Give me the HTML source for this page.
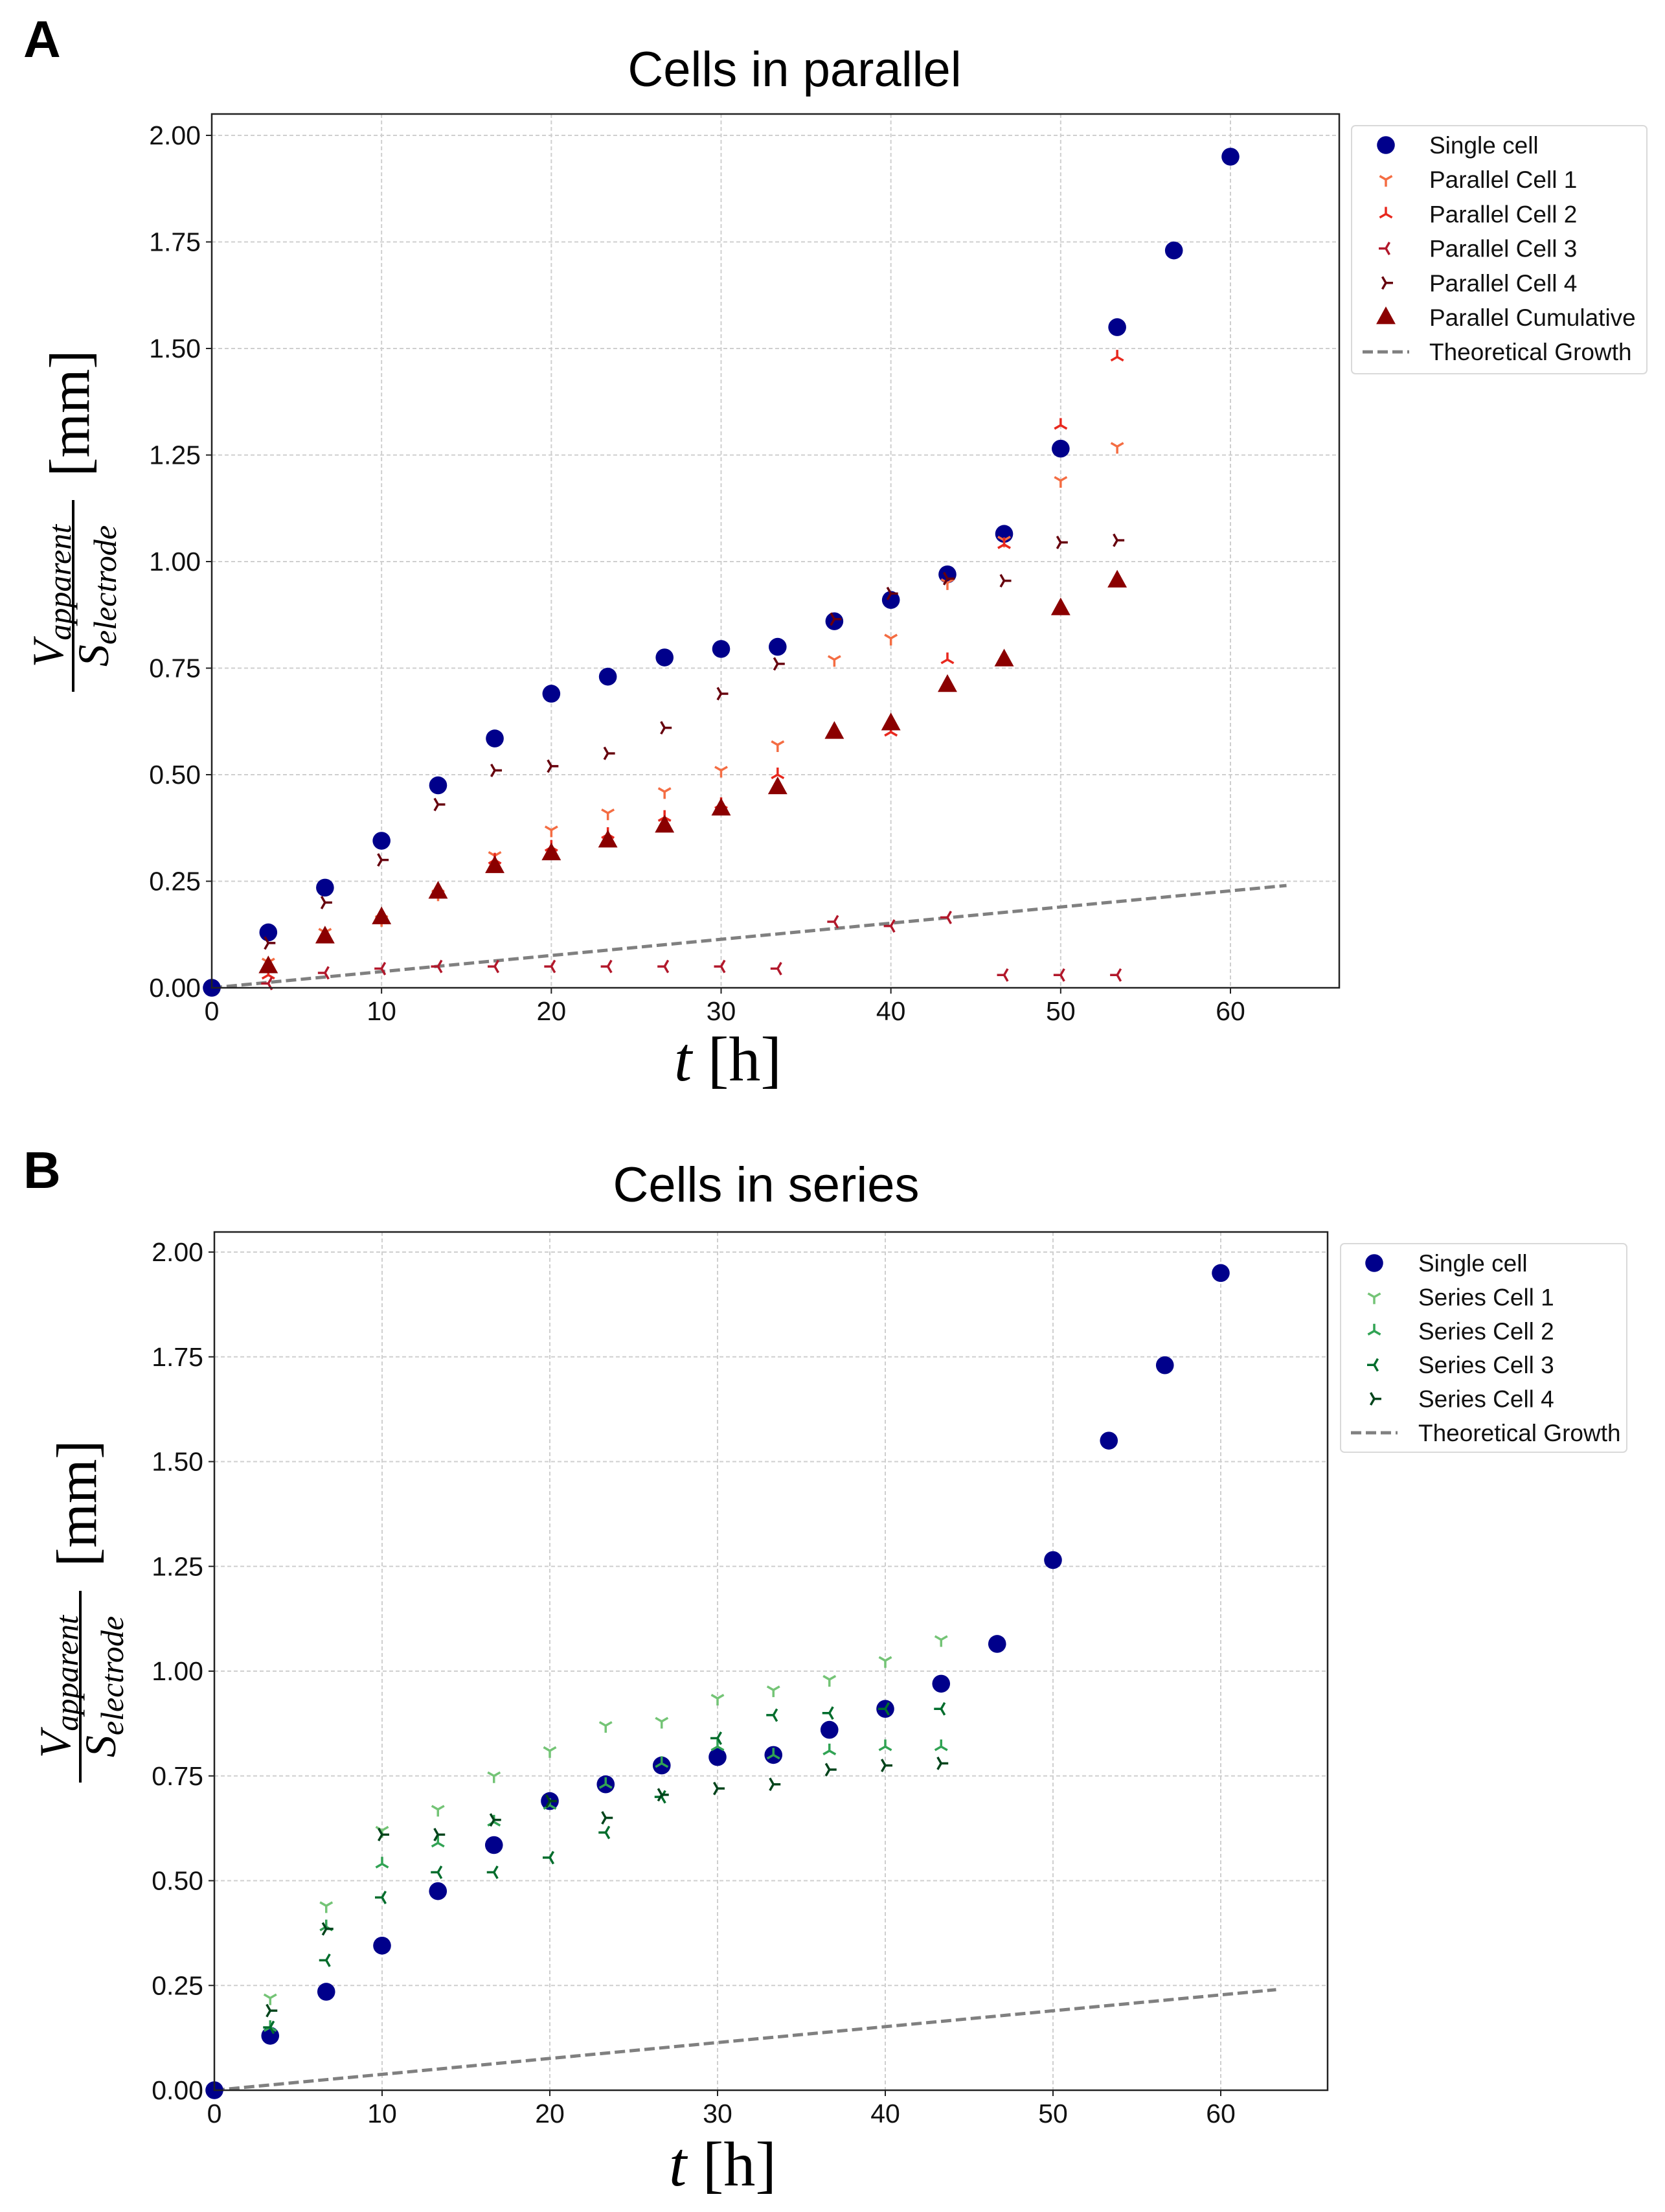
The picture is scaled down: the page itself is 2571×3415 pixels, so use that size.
<!DOCTYPE html>
<html><head><meta charset="utf-8"><style>
html,body{margin:0;padding:0;background:#fff}
svg{display:block}
text{font-family:"Liberation Sans",sans-serif}
.serif{font-family:"Liberation Serif","DejaVu Serif",serif}
</style></head><body>
<svg id="fig" width="2571" height="3415" viewBox="0 0 2571 3415" xmlns="http://www.w3.org/2000/svg"></svg>
<script>
// ---- data ----
const xTicks = [0,10,20,30,40,50,60];
const yTicks = [0,0.25,0.5,0.75,1.0,1.25,1.5,1.75,2.0];
const yTickLabels = ["0.00","0.25","0.50","0.75","1.00","1.25","1.50","1.75","2.00"];
const singleX = [0,3.33,6.67,10,13.33,16.67,20,23.33,26.67,30,33.33,36.67,40,43.33,46.67,50,53.33,56.67,60];
const singleY = [0,0.13,0.235,0.345,0.475,0.585,0.69,0.73,0.775,0.795,0.80,0.86,0.91,0.97,1.065,1.265,1.55,1.73,1.95];
const cellX = [3.33,6.67,10,13.33,16.67,20,23.33,26.67,30,33.33,36.67,40,43.33,46.67,50,53.33];
const par1 = [0.06,0.13,0.16,0.22,0.31,0.37,0.41,0.46,0.51,0.57,0.77,0.82,0.95,1.05,1.19,1.27];
const par2 = [0.03,0.12,0.16,0.22,0.30,0.33,0.36,0.40,0.43,0.50,0.60,0.60,0.77,1.04,1.32,1.48];
const par3 = [0.01,0.035,0.045,0.05,0.05,0.05,0.05,0.05,0.05,0.045,0.155,0.145,0.165,0.03,0.03,0.03];
const par4 = [0.105,0.20,0.30,0.43,0.51,0.52,0.55,0.61,0.69,0.76,0.865,0.925,0.96,0.955,1.045,1.05];
const parCum = [0.05,0.12,0.165,0.225,0.285,0.315,0.345,0.38,0.42,0.47,0.60,0.62,0.71,0.77,0.89,0.955];
const serX = [3.33,6.67,10,13.33,16.67,20,23.33,26.67,30,33.33,36.67,40,43.33];
const ser1 = [0.22,0.44,0.62,0.67,0.75,0.81,0.87,0.88,0.935,0.955,0.98,1.025,1.075];
const ser2 = [0.15,0.39,0.54,0.59,0.64,0.68,0.73,0.78,0.82,0.80,0.81,0.82,0.82];
const ser3 = [0.15,0.31,0.46,0.52,0.52,0.555,0.615,0.70,0.84,0.895,0.90,0.91,0.91];
const ser4 = [0.19,0.385,0.61,0.61,0.645,0.69,0.65,0.705,0.72,0.73,0.765,0.775,0.78];
const theoX = [0,63.3];
const theoY = [0,0.24];

const NS="http://www.w3.org/2000/svg";
const svg=document.getElementById('fig');
function mk(tag,attrs,parent){const e=document.createElementNS(NS,tag);for(const k in attrs)e.setAttribute(k,attrs[k]);(parent||svg).appendChild(e);return e;}

function marker(g,type,cx,cy,color,s){
  if(type==='circle'){return mk('circle',{cx:cx,cy:cy,r:s*1.15,fill:color},g);}
  if(type==='tri'){return mk('polygon',{points:`${cx},${cy-s*1.3} ${cx-s*1.15},${cy+s*0.8} ${cx+s*1.15},${cy+s*0.8}`,fill:color},g);}
  let d='';
  const dirs={down:[[0,1],[-0.87,-0.5],[0.87,-0.5]],up:[[0,-1],[-0.87,0.5],[0.87,0.5]],left:[[-1,0],[0.5,-0.87],[0.5,0.87]],right:[[1,0],[-0.5,-0.87],[-0.5,0.87]]}[type];
  dirs.forEach(v=>{d+=`M${cx},${cy}L${cx+v[0]*s},${cy+v[1]*s}`;});
  return mk('path',{d:d,stroke:color,'stroke-width':3.5,fill:'none'},g);
}

function panel(cfg){
  const {L,R,T,B,x0px,x60px,y0px,y2px}=cfg;
  const sx=v=>x0px+(x60px-x0px)*v/60;
  const sy=v=>y0px+(y2px-y0px)*v/2;
  const g=mk('g',{});
  
  
  xTicks.forEach(t=>{const l=mk('line',{x1:sx(t),x2:sx(t),y1:T,y2:B,stroke:'#cfcfcf','stroke-width':2,'stroke-dasharray':'6,4'},g);});
  yTicks.forEach(t=>{const l=mk('line',{x1:L,x2:R,y1:sy(t),y2:sy(t),stroke:'#cfcfcf','stroke-width':2,'stroke-dasharray':'6,4'},g);});
  xTicks.forEach(t=>{mk('line',{x1:sx(t),x2:sx(t),y1:B,y2:B+9,stroke:'#222','stroke-width':2},g);
    const tx=mk('text',{x:sx(t),y:B+50,'font-size':41,'text-anchor':'middle',fill:'#111'},g);tx.textContent=t;
    });
  yTicks.forEach((t,i)=>{mk('line',{x1:L-9,x2:L,y1:sy(t),y2:sy(t),stroke:'#222','stroke-width':2},g);
    const tx=mk('text',{x:L-17,y:sy(t)+14,'font-size':41,'text-anchor':'end',fill:'#111'},g);tx.textContent=yTickLabels[i];
    });
  const th=mk('line',{x1:sx(theoX[0]),y1:sy(theoY[0]),x2:sx(theoX[1]),y2:sy(theoY[1]),stroke:'#808080','stroke-width':5,'stroke-dasharray':'16,7'},g);
  
  cfg.series.forEach(s=>{
    const sg=mk('g',{},g);
    
    
    s.y.forEach((v,i)=>{const m=marker(sg,s.type,sx(s.x[i]),sy(v),s.color,s.type==='circle'?12:(s.type==='tri'?13:11));
      });
  });
  const fr=mk('rect',{x:L,y:T,width:R-L,height:B-T,fill:'none',stroke:'#222','stroke-width':2.5},g);
  
  const ti=mk('text',{x:cfg.titleX,y:cfg.titleY,'font-size':76,'text-anchor':'middle',fill:'#000'},g);ti.textContent=cfg.title;
  
  const pl=mk('text',{x:36,y:cfg.letterY,'font-size':80,'font-weight':'bold',fill:'#000'},g);pl.textContent=cfg.letter;
  
  const xl=mk('text',{x:cfg.xlabX,y:cfg.xlabY,'font-size':98,'text-anchor':'middle',fill:'#000',class:'serif'},g);
  xl.innerHTML='<tspan font-style="italic">t</tspan> [h]';
  
  const yg=mk('g',{transform:`translate(${cfg.ylabX},${cfg.ylabY}) rotate(-90)`},g);
  
  const num=mk('text',{x:0,y:-16,'font-size':68,'text-anchor':'middle',class:'serif','font-style':'italic',fill:'#000'},yg);
  num.innerHTML='V<tspan font-size="50" dy="12">apparent</tspan>';
  mk('line',{x1:-148,x2:148,y1:0,y2:0,stroke:'#000','stroke-width':4},yg);
  const den=mk('text',{x:0,y:54,'font-size':68,'text-anchor':'middle',class:'serif','font-style':'italic',fill:'#000'},yg);
  den.innerHTML='S<tspan font-size="50" dy="12">electrode</tspan>';
  const mm=mk('text',{x:cfg.mmOff,y:24,'font-size':88,'text-anchor':'middle',class:'serif',fill:'#000'},yg);mm.textContent='[mm]';
  const lg=mk('g',{},g);
  
  const lb=cfg.legend;
  mk('rect',{x:lb.x,y:lb.y,width:lb.w,height:lb.h,rx:6,fill:'#fff',stroke:'#d9d9d9','stroke-width':2},lg);
  const entries=cfg.series.map(s=>({label:s.label,type:s.type,color:s.color})).concat([{label:'Theoretical Growth',type:'line'}]);
  entries.forEach((e,i)=>{
    const y=lb.firstY+i*lb.step;
    const eg=mk('g',{},lg);
    
    if(e.type==='line'){mk('line',{x1:lb.mx-36,x2:lb.mx+36,y1:y,y2:y,stroke:'#808080','stroke-width':5,'stroke-dasharray':'16,7'},eg);}
    else marker(eg,e.type,lb.mx,y,e.color,e.type==='circle'?12:(e.type==='tri'?13:11));
    const t=mk('text',{x:lb.tx,y:y+13,'font-size':37,fill:'#111'},eg);t.textContent=e.label;
  });
}

panel({name:'parallel-chart',L:327,R:2068,T:176,B:1525,x0px:327,x60px:1900,y0px:1525,y2px:209,
  title:'Cells in parallel',titleX:1227,titleY:133,letter:'A',letterY:88,
  xlabX:1124,xlabY:1668,ylabX:113,ylabY:920,mmOff:282,
  legend:{x:2087,y:194,w:456,h:383,firstY:224,step:53.2,mx:2140,tx:2207},
  series:[
    {name:'single-cell-series',label:'Single cell',type:'circle',color:'#00008b',x:singleX,y:singleY},
    {name:'parallel-cell-1-series',label:'Parallel Cell 1',type:'down',color:'#f46d43',x:cellX,y:par1},
    {name:'parallel-cell-2-series',label:'Parallel Cell 2',type:'up',color:'#e8281e',x:cellX,y:par2},
    {name:'parallel-cell-3-series',label:'Parallel Cell 3',type:'left',color:'#b2182b',x:cellX,y:par3},
    {name:'parallel-cell-4-series',label:'Parallel Cell 4',type:'right',color:'#67000d',x:cellX,y:par4},
    {name:'parallel-cumulative-series',label:'Parallel Cumulative',type:'tri',color:'#8b0000',x:cellX,y:parCum}
  ]});

panel({name:'series-chart',L:331,R:2050,T:1902,B:3227,x0px:331,x60px:1885,y0px:3227,y2px:1933,
  title:'Cells in series',titleX:1183,titleY:1855,letter:'B',letterY:1834,
  xlabX:1116,xlabY:3374,ylabX:124,ylabY:2604,mmOff:283,
  legend:{x:2070,y:1920,w:442,h:322,firstY:1950,step:52.4,mx:2122,tx:2190},
  series:[
    {name:'single-cell-series',label:'Single cell',type:'circle',color:'#00008b',x:singleX,y:singleY},
    {name:'series-cell-1-series',label:'Series Cell 1',type:'down',color:'#74c476',x:serX,y:ser1},
    {name:'series-cell-2-series',label:'Series Cell 2',type:'up',color:'#31a354',x:serX,y:ser2},
    {name:'series-cell-3-series',label:'Series Cell 3',type:'left',color:'#006d2c',x:serX,y:ser3},
    {name:'series-cell-4-series',label:'Series Cell 4',type:'right',color:'#00441b',x:serX,y:ser4}
  ]});
</script>
</body></html>
